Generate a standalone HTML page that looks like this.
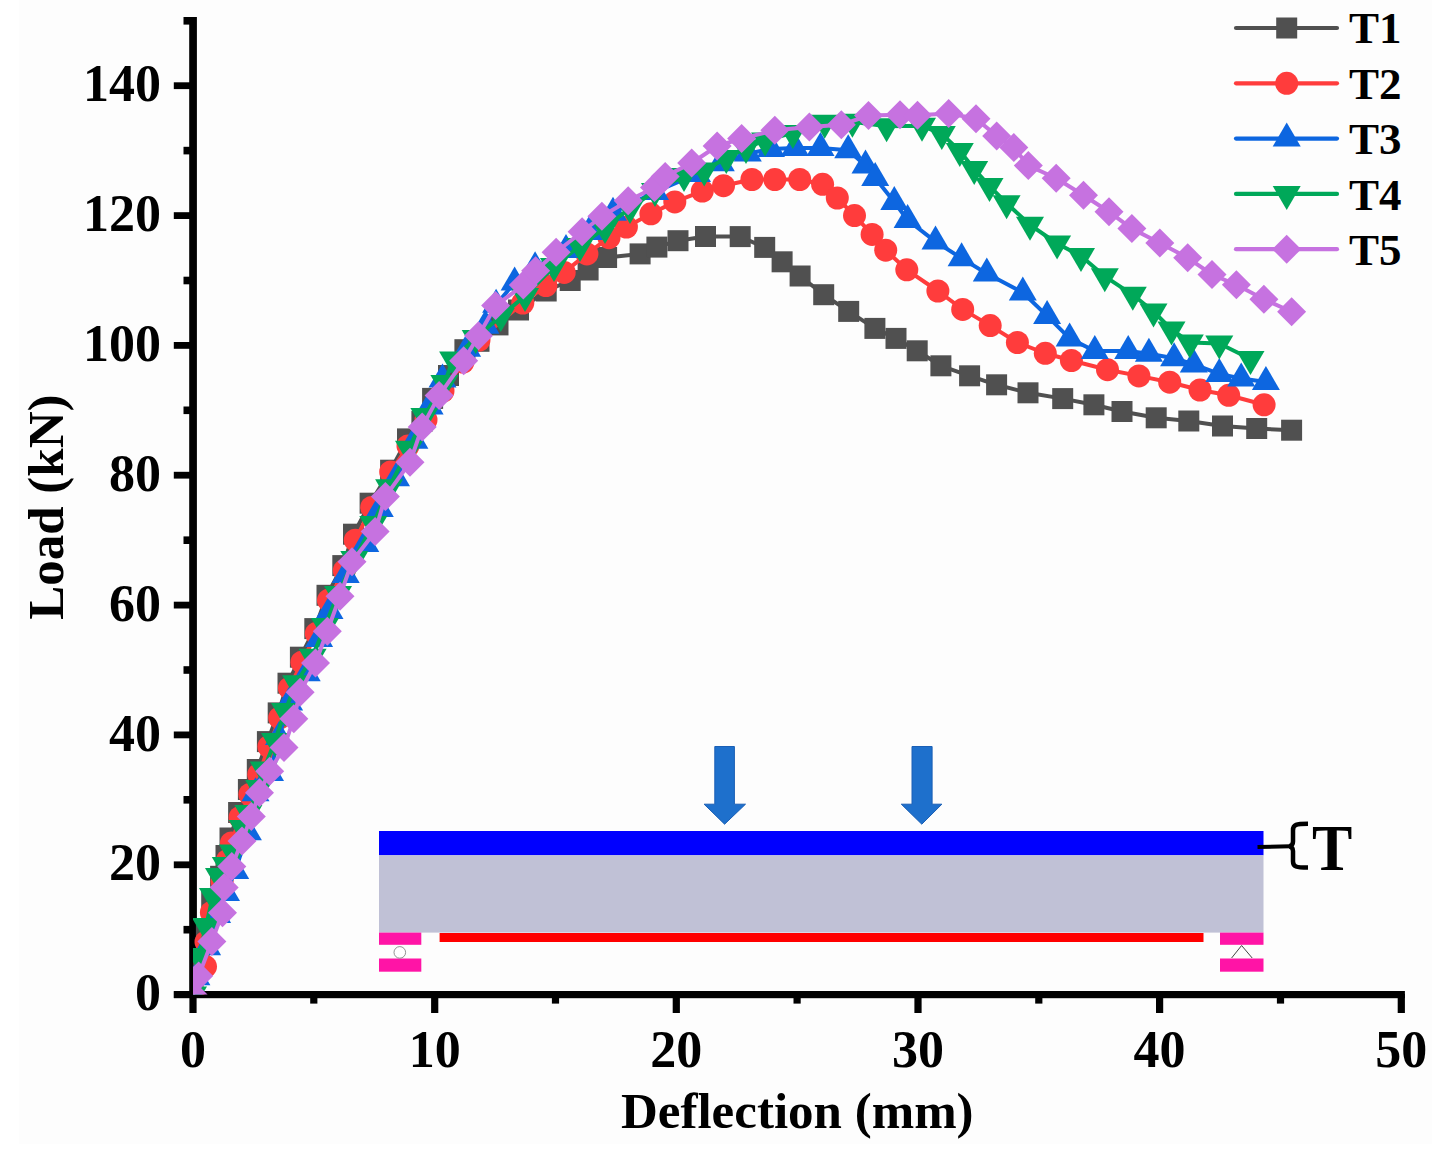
<!DOCTYPE html>
<html><head><meta charset="utf-8"><style>
html,body{margin:0;padding:0;background:#fff;width:1444px;height:1171px;overflow:hidden}
svg{display:block}
text{font-family:"Liberation Serif",serif;font-weight:bold;fill:#000}
</style></head><body>
<svg width="1444" height="1171" viewBox="0 0 1444 1171">
<rect x="19" y="0" width="1413" height="1144" fill="#fdfdfd"/>
<defs><clipPath id="cp"><rect x="193" y="0" width="1220" height="994.6"/></clipPath></defs>

<g>
<rect x="379" y="831" width="884.5" height="24.3" fill="#0000ff"/>
<rect x="379" y="855.3" width="884.5" height="77.3" fill="#c0c1d6"/>
<rect x="439.6" y="933" width="763.9" height="9" fill="#ff0000"/>
<rect x="379" y="932.6" width="42.3" height="12.2" fill="#ff14a6"/>
<rect x="379" y="958.5" width="42.3" height="13.2" fill="#ff14a6"/>
<rect x="1220" y="932.6" width="43.5" height="12.2" fill="#ff14a6"/>
<rect x="1220" y="958.5" width="43.5" height="13.2" fill="#ff14a6"/>
<circle cx="399.8" cy="952.4" r="5.8" fill="#fff" stroke="#777" stroke-width="0.8"/>
<path d="M1231.6 958L1241.6 945.5L1252.2 958" fill="none" stroke="#444" stroke-width="1"/>
<path d="M714.8 746.5H734.4V804.2H745.5L724.6 824.2L704.1 804.2H714.8Z" fill="#1e70cc" stroke="#1a5fb5" stroke-width="1"/>
<path d="M912 746.5H932.1V804.2H941.9L921.8 824.2L901.3 804.2H912Z" fill="#1e70cc" stroke="#1a5fb5" stroke-width="1"/>
<path d="M1257.5 847L1290.5 846.2" stroke="#000" stroke-width="4" fill="none"/>
<path d="M1308 823.8C1296 823.8 1293 824.7 1293 830.2V841.5C1293 844 1291.5 845.8 1289.5 846.3C1291.5 846.8 1293 848.6 1293 851.1V861.5C1293 866.7 1296 867.6 1308 867.6" stroke="#000" stroke-width="4.5" fill="none"/>
<text transform="translate(1312 870.3) scale(0.93 1)" x="0" y="0" font-size="65">T</text>
</g>

<g fill="#000">
<rect x="189.2" y="17" width="7.7" height="981"/>
<rect x="173.9" y="991" width="1231" height="7.2"/>

<rect x="173.8" y="991.2" width="18" height="6.8"/>
<rect x="183.5" y="925.9" width="8" height="7.6"/>
<rect x="173.8" y="861.4" width="18" height="6.8"/>
<rect x="183.5" y="796" width="8" height="7.6"/>
<rect x="173.8" y="731.5" width="18" height="6.8"/>
<rect x="183.5" y="666.2" width="8" height="7.6"/>
<rect x="173.8" y="601.7" width="18" height="6.8"/>
<rect x="183.5" y="536.4" width="8" height="7.6"/>
<rect x="173.8" y="471.8" width="18" height="6.8"/>
<rect x="183.5" y="406.5" width="8" height="7.6"/>
<rect x="173.8" y="342" width="18" height="6.8"/>
<rect x="183.5" y="276.7" width="8" height="7.6"/>
<rect x="173.8" y="212.2" width="18" height="6.8"/>
<rect x="183.5" y="146.8" width="8" height="7.6"/>
<rect x="173.8" y="82.3" width="18" height="6.8"/>
<rect x="183.5" y="17" width="8" height="7.6"/>
<rect x="189.4" y="994" width="7.2" height="19"/>
<rect x="310.2" y="994" width="7.2" height="9.6"/>
<rect x="431.1" y="994" width="7.2" height="19"/>
<rect x="551.9" y="994" width="7.2" height="9.6"/>
<rect x="672.7" y="994" width="7.2" height="19"/>
<rect x="793.5" y="994" width="7.2" height="9.6"/>
<rect x="914.4" y="994" width="7.2" height="19"/>
<rect x="1035.2" y="994" width="7.2" height="9.6"/>
<rect x="1156" y="994" width="7.2" height="19"/>
<rect x="1276.9" y="994" width="7.2" height="9.6"/>
<rect x="1397.7" y="994" width="7.2" height="19"/>
</g>
<g font-size="52">
<text x="161" y="1010.2" text-anchor="end">0</text>
<text x="161" y="880.4" text-anchor="end">20</text>
<text x="161" y="750.5" text-anchor="end">40</text>
<text x="161" y="620.7" text-anchor="end">60</text>
<text x="161" y="490.8" text-anchor="end">80</text>
<text x="161" y="361" text-anchor="end">100</text>
<text x="161" y="231.2" text-anchor="end">120</text>
<text x="161" y="101.3" text-anchor="end">140</text>
<text x="193" y="1067" text-anchor="middle">0</text>
<text x="434.7" y="1067" text-anchor="middle">10</text>
<text x="676.3" y="1067" text-anchor="middle">20</text>
<text x="918" y="1067" text-anchor="middle">30</text>
<text x="1159.6" y="1067" text-anchor="middle">40</text>
<text x="1401.3" y="1067" text-anchor="middle">50</text>
</g>
<text x="797.3" y="1128.2" font-size="51" text-anchor="middle">Deflection (mm)</text>
<text transform="translate(63.3 507.2) rotate(-90)" x="0" y="0" font-size="51" text-anchor="middle">Load (kN)</text>
<g clip-path="url(#cp)">
<polyline points="193,994.6 199,963 206.4,932.8 211.7,901.3 220.6,876.3 226,855.5 230,838 238.6,812.5 248.4,789.5 257.3,769.5 267.4,741.6 278.2,712.9 288,683.2 300.4,657.2 314.8,628.6 327,595.3 342.8,565.6 353.5,534.2 370.1,503.2 390.6,470.2 407.5,438.9 421.9,421.4 432.6,398.4 448.5,375.5 464.9,349.7 479,341.3 498,324.9 518.5,310 546.2,291 570.2,280.5 588.1,270 606.6,257.5 640.1,253.9 656.9,247.1 678,240.7 705.5,236.5 740.2,236.6 764.7,247.4 782.1,261.8 800.1,276 823.7,294.7 848.7,311.4 874.9,328.4 896,338.4 917.2,350.8 940.9,365.8 969.6,375.8 996.6,384.8 1028,392.8 1062.7,398.6 1093.9,404.8 1122,411.5 1156.2,417.8 1188.8,421 1222.5,426 1256.7,428.5 1291.6,430.2" fill="none" stroke="#505050" stroke-width="4" stroke-linejoin="round"/>
<g fill="#505050">
<rect x="182.5" y="984.1" width="21" height="21"/>
<rect x="188.5" y="952.5" width="21" height="21"/>
<rect x="195.9" y="922.3" width="21" height="21"/>
<rect x="201.2" y="890.8" width="21" height="21"/>
<rect x="210.1" y="865.8" width="21" height="21"/>
<rect x="215.5" y="845" width="21" height="21"/>
<rect x="219.5" y="827.5" width="21" height="21"/>
<rect x="228.1" y="802" width="21" height="21"/>
<rect x="237.9" y="779" width="21" height="21"/>
<rect x="246.8" y="759" width="21" height="21"/>
<rect x="256.9" y="731.1" width="21" height="21"/>
<rect x="267.7" y="702.4" width="21" height="21"/>
<rect x="277.5" y="672.7" width="21" height="21"/>
<rect x="289.9" y="646.7" width="21" height="21"/>
<rect x="304.3" y="618.1" width="21" height="21"/>
<rect x="316.5" y="584.8" width="21" height="21"/>
<rect x="332.3" y="555.1" width="21" height="21"/>
<rect x="343" y="523.7" width="21" height="21"/>
<rect x="359.6" y="492.7" width="21" height="21"/>
<rect x="380.1" y="459.7" width="21" height="21"/>
<rect x="397" y="428.4" width="21" height="21"/>
<rect x="411.4" y="410.9" width="21" height="21"/>
<rect x="422.1" y="387.9" width="21" height="21"/>
<rect x="438" y="365" width="21" height="21"/>
<rect x="454.4" y="339.2" width="21" height="21"/>
<rect x="468.5" y="330.8" width="21" height="21"/>
<rect x="487.5" y="314.4" width="21" height="21"/>
<rect x="508" y="299.5" width="21" height="21"/>
<rect x="535.7" y="280.5" width="21" height="21"/>
<rect x="559.7" y="270" width="21" height="21"/>
<rect x="577.6" y="259.5" width="21" height="21"/>
<rect x="596.1" y="247" width="21" height="21"/>
<rect x="629.6" y="243.4" width="21" height="21"/>
<rect x="646.4" y="236.6" width="21" height="21"/>
<rect x="667.5" y="230.2" width="21" height="21"/>
<rect x="695" y="226" width="21" height="21"/>
<rect x="729.7" y="226.1" width="21" height="21"/>
<rect x="754.2" y="236.9" width="21" height="21"/>
<rect x="771.6" y="251.3" width="21" height="21"/>
<rect x="789.6" y="265.5" width="21" height="21"/>
<rect x="813.2" y="284.2" width="21" height="21"/>
<rect x="838.2" y="300.9" width="21" height="21"/>
<rect x="864.4" y="317.9" width="21" height="21"/>
<rect x="885.5" y="327.9" width="21" height="21"/>
<rect x="906.7" y="340.3" width="21" height="21"/>
<rect x="930.4" y="355.3" width="21" height="21"/>
<rect x="959.1" y="365.3" width="21" height="21"/>
<rect x="986.1" y="374.3" width="21" height="21"/>
<rect x="1017.5" y="382.3" width="21" height="21"/>
<rect x="1052.2" y="388.1" width="21" height="21"/>
<rect x="1083.4" y="394.3" width="21" height="21"/>
<rect x="1111.5" y="401" width="21" height="21"/>
<rect x="1145.7" y="407.3" width="21" height="21"/>
<rect x="1178.3" y="410.5" width="21" height="21"/>
<rect x="1212" y="415.5" width="21" height="21"/>
<rect x="1246.2" y="418" width="21" height="21"/>
<rect x="1281.1" y="419.7" width="21" height="21"/>
</g>
<polyline points="193,994.6 205.5,966.6 206,942 211.4,912.4 222.1,881.3 227.5,860.5 231.5,843 240.1,817.5 249.9,794.5 258.8,774.5 268.9,746.6 279.7,717.9 289.5,688.2 301.9,662.2 316.3,633.6 328.5,600.3 344.3,570.6 355.3,540.2 371.7,507.4 390.7,472 408,446 426,420 443,391 463,362 479,340 522.8,303 545.9,285.6 564.2,272.4 586.9,253.9 609,237.7 626.4,227 650.9,213.8 674.8,201.9 702.3,191.1 723.5,185.7 751.9,179.5 774.8,179.5 799.7,179.5 822.6,184.3 837.3,198 854.5,215.6 872.1,234.4 885.7,250.2 906.8,269.8 937.9,291 962.7,309.4 990.2,325.6 1017.4,342.5 1045.3,353.3 1071.4,360.5 1107.5,369.7 1138.9,375.9 1169.7,382.2 1200,390 1228.7,395.3 1264.1,404.8" fill="none" stroke="#ff3c3c" stroke-width="4" stroke-linejoin="round"/>
<g fill="#ff3c3c">
<circle cx="193" cy="994.6" r="11.5"/>
<circle cx="205.5" cy="966.6" r="11.5"/>
<circle cx="206" cy="942" r="11.5"/>
<circle cx="211.4" cy="912.4" r="11.5"/>
<circle cx="222.1" cy="881.3" r="11.5"/>
<circle cx="227.5" cy="860.5" r="11.5"/>
<circle cx="231.5" cy="843" r="11.5"/>
<circle cx="240.1" cy="817.5" r="11.5"/>
<circle cx="249.9" cy="794.5" r="11.5"/>
<circle cx="258.8" cy="774.5" r="11.5"/>
<circle cx="268.9" cy="746.6" r="11.5"/>
<circle cx="279.7" cy="717.9" r="11.5"/>
<circle cx="289.5" cy="688.2" r="11.5"/>
<circle cx="301.9" cy="662.2" r="11.5"/>
<circle cx="316.3" cy="633.6" r="11.5"/>
<circle cx="328.5" cy="600.3" r="11.5"/>
<circle cx="344.3" cy="570.6" r="11.5"/>
<circle cx="355.3" cy="540.2" r="11.5"/>
<circle cx="371.7" cy="507.4" r="11.5"/>
<circle cx="390.7" cy="472" r="11.5"/>
<circle cx="408" cy="446" r="11.5"/>
<circle cx="426" cy="420" r="11.5"/>
<circle cx="443" cy="391" r="11.5"/>
<circle cx="463" cy="362" r="11.5"/>
<circle cx="479" cy="340" r="11.5"/>
<circle cx="522.8" cy="303" r="11.5"/>
<circle cx="545.9" cy="285.6" r="11.5"/>
<circle cx="564.2" cy="272.4" r="11.5"/>
<circle cx="586.9" cy="253.9" r="11.5"/>
<circle cx="609" cy="237.7" r="11.5"/>
<circle cx="626.4" cy="227" r="11.5"/>
<circle cx="650.9" cy="213.8" r="11.5"/>
<circle cx="674.8" cy="201.9" r="11.5"/>
<circle cx="702.3" cy="191.1" r="11.5"/>
<circle cx="723.5" cy="185.7" r="11.5"/>
<circle cx="751.9" cy="179.5" r="11.5"/>
<circle cx="774.8" cy="179.5" r="11.5"/>
<circle cx="799.7" cy="179.5" r="11.5"/>
<circle cx="822.6" cy="184.3" r="11.5"/>
<circle cx="837.3" cy="198" r="11.5"/>
<circle cx="854.5" cy="215.6" r="11.5"/>
<circle cx="872.1" cy="234.4" r="11.5"/>
<circle cx="885.7" cy="250.2" r="11.5"/>
<circle cx="906.8" cy="269.8" r="11.5"/>
<circle cx="937.9" cy="291" r="11.5"/>
<circle cx="962.7" cy="309.4" r="11.5"/>
<circle cx="990.2" cy="325.6" r="11.5"/>
<circle cx="1017.4" cy="342.5" r="11.5"/>
<circle cx="1045.3" cy="353.3" r="11.5"/>
<circle cx="1071.4" cy="360.5" r="11.5"/>
<circle cx="1107.5" cy="369.7" r="11.5"/>
<circle cx="1138.9" cy="375.9" r="11.5"/>
<circle cx="1169.7" cy="382.2" r="11.5"/>
<circle cx="1200" cy="390" r="11.5"/>
<circle cx="1228.7" cy="395.3" r="11.5"/>
<circle cx="1264.1" cy="404.8" r="11.5"/>
</g>
<polyline points="193,994.6 196.4,977.2 207.1,947.2 217.1,915 226,893 235.2,871 247.9,832.2 255.5,793.3 270,773 279,737 289.1,702.4 306.7,673.2 319.1,639 329.5,610.9 345.7,575 365.3,544 379.8,509 396,478.3 414.4,440.8 429.6,406.6 442.5,379.4 467.1,348.7 485.4,325.7 496.1,304.7 514.6,282.6 535.1,267.3 566,250 589,232 613,212.7 655,192 697,174 720.8,163.3 747.8,153.6 771,149 795,148 820.5,148 848.2,150.2 865.5,165.5 875.2,178 894.3,202 907.6,220 935.5,241.6 961.6,258.3 986.8,273.6 1022.8,292.5 1047.1,315.9 1069.6,338.4 1094.8,351 1128.2,351 1148.9,353.7 1174.1,358.2 1193.8,364.4 1219.3,373.9 1241.2,378.4 1265.9,381.9" fill="none" stroke="#0d66e0" stroke-width="4" stroke-linejoin="round"/>
<g fill="#0d66e0">
<path d="M193 978.6L207 1002.6H179Z"/>
<path d="M196.4 961.2L210.4 985.2H182.4Z"/>
<path d="M207.1 931.2L221.1 955.2H193.1Z"/>
<path d="M217.1 899L231.1 923H203.1Z"/>
<path d="M226 877L240 901H212Z"/>
<path d="M235.2 855L249.2 879H221.2Z"/>
<path d="M247.9 816.2L261.9 840.2H233.9Z"/>
<path d="M255.5 777.3L269.5 801.3H241.5Z"/>
<path d="M270 757L284 781H256Z"/>
<path d="M279 721L293 745H265Z"/>
<path d="M289.1 686.4L303.1 710.4H275.1Z"/>
<path d="M306.7 657.2L320.7 681.2H292.7Z"/>
<path d="M319.1 623L333.1 647H305.1Z"/>
<path d="M329.5 594.9L343.5 618.9H315.5Z"/>
<path d="M345.7 559L359.7 583H331.7Z"/>
<path d="M365.3 528L379.3 552H351.3Z"/>
<path d="M379.8 493L393.8 517H365.8Z"/>
<path d="M396 462.3L410 486.3H382Z"/>
<path d="M414.4 424.8L428.4 448.8H400.4Z"/>
<path d="M429.6 390.6L443.6 414.6H415.6Z"/>
<path d="M442.5 363.4L456.5 387.4H428.5Z"/>
<path d="M467.1 332.7L481.1 356.7H453.1Z"/>
<path d="M485.4 309.7L499.4 333.7H471.4Z"/>
<path d="M496.1 288.7L510.1 312.7H482.1Z"/>
<path d="M514.6 266.6L528.6 290.6H500.6Z"/>
<path d="M535.1 251.3L549.1 275.3H521.1Z"/>
<path d="M566 234L580 258H552Z"/>
<path d="M589 216L603 240H575Z"/>
<path d="M613 196.7L627 220.7H599Z"/>
<path d="M655 176L669 200H641Z"/>
<path d="M697 158L711 182H683Z"/>
<path d="M720.8 147.3L734.8 171.3H706.8Z"/>
<path d="M747.8 137.6L761.8 161.6H733.8Z"/>
<path d="M771 133L785 157H757Z"/>
<path d="M795 132L809 156H781Z"/>
<path d="M820.5 132L834.5 156H806.5Z"/>
<path d="M848.2 134.2L862.2 158.2H834.2Z"/>
<path d="M865.5 149.5L879.5 173.5H851.5Z"/>
<path d="M875.2 162L889.2 186H861.2Z"/>
<path d="M894.3 186L908.3 210H880.3Z"/>
<path d="M907.6 204L921.6 228H893.6Z"/>
<path d="M935.5 225.6L949.5 249.6H921.5Z"/>
<path d="M961.6 242.3L975.6 266.3H947.6Z"/>
<path d="M986.8 257.6L1000.8 281.6H972.8Z"/>
<path d="M1022.8 276.5L1036.8 300.5H1008.8Z"/>
<path d="M1047.1 299.9L1061.1 323.9H1033.1Z"/>
<path d="M1069.6 322.4L1083.6 346.4H1055.6Z"/>
<path d="M1094.8 335L1108.8 359H1080.8Z"/>
<path d="M1128.2 335L1142.2 359H1114.2Z"/>
<path d="M1148.9 337.7L1162.9 361.7H1134.9Z"/>
<path d="M1174.1 342.2L1188.1 366.2H1160.1Z"/>
<path d="M1193.8 348.4L1207.8 372.4H1179.8Z"/>
<path d="M1219.3 357.9L1233.3 381.9H1205.3Z"/>
<path d="M1241.2 362.4L1255.2 386.4H1227.2Z"/>
<path d="M1265.9 365.9L1279.9 389.9H1251.9Z"/>
</g>
<polyline points="193,994.6 199,956 206,926 213,896 219,876 225.8,864.9 233,852.6 242.7,828 248.4,813.1 259.1,788 263.8,769.5 275,741 285,711 296.2,683.3 312.6,656.7 325,626 338,594 354.3,559 373.3,524.1 389.1,487.2 409,448.7 424.4,415.9 444.4,383.1 453.1,359.5 475.7,338 500.8,316 525,296 554,266 580,246 605,228 630,208 655,191 684,176 704.2,170.6 726.3,158.1 746,148 765.1,140.5 792.8,132.9 824.7,122.8 852.4,121.7 886.6,126.2 922,125.8 941.8,133.9 959.8,151 974.2,169 989.5,186.1 1006.6,203.2 1030,224.8 1057.1,243.5 1081,256.1 1104.8,276.3 1132.8,294.8 1153.5,311.5 1171.5,329.5 1189.8,342.4 1219.3,343.5 1250.5,359" fill="none" stroke="#00a859" stroke-width="4" stroke-linejoin="round"/>
<g fill="#00a859">
<path d="M179 986.6H207L193 1010.6Z"/>
<path d="M185 948H213L199 972Z"/>
<path d="M192 918H220L206 942Z"/>
<path d="M199 888H227L213 912Z"/>
<path d="M205 868H233L219 892Z"/>
<path d="M211.8 856.9H239.8L225.8 880.9Z"/>
<path d="M219 844.6H247L233 868.6Z"/>
<path d="M228.7 820H256.7L242.7 844Z"/>
<path d="M234.4 805.1H262.4L248.4 829.1Z"/>
<path d="M245.1 780H273.1L259.1 804Z"/>
<path d="M249.8 761.5H277.8L263.8 785.5Z"/>
<path d="M261 733H289L275 757Z"/>
<path d="M271 703H299L285 727Z"/>
<path d="M282.2 675.3H310.2L296.2 699.3Z"/>
<path d="M298.6 648.7H326.6L312.6 672.7Z"/>
<path d="M311 618H339L325 642Z"/>
<path d="M324 586H352L338 610Z"/>
<path d="M340.3 551H368.3L354.3 575Z"/>
<path d="M359.3 516.1H387.3L373.3 540.1Z"/>
<path d="M375.1 479.2H403.1L389.1 503.2Z"/>
<path d="M395 440.7H423L409 464.7Z"/>
<path d="M410.4 407.9H438.4L424.4 431.9Z"/>
<path d="M430.4 375.1H458.4L444.4 399.1Z"/>
<path d="M439.1 351.5H467.1L453.1 375.5Z"/>
<path d="M461.7 330H489.7L475.7 354Z"/>
<path d="M486.8 308H514.8L500.8 332Z"/>
<path d="M511 288H539L525 312Z"/>
<path d="M540 258H568L554 282Z"/>
<path d="M566 238H594L580 262Z"/>
<path d="M591 220H619L605 244Z"/>
<path d="M616 200H644L630 224Z"/>
<path d="M641 183H669L655 207Z"/>
<path d="M670 168H698L684 192Z"/>
<path d="M690.2 162.6H718.2L704.2 186.6Z"/>
<path d="M712.3 150.1H740.3L726.3 174.1Z"/>
<path d="M732 140H760L746 164Z"/>
<path d="M751.1 132.5H779.1L765.1 156.5Z"/>
<path d="M778.8 124.9H806.8L792.8 148.9Z"/>
<path d="M810.7 114.8H838.7L824.7 138.8Z"/>
<path d="M838.4 113.7H866.4L852.4 137.7Z"/>
<path d="M872.6 118.2H900.6L886.6 142.2Z"/>
<path d="M908 117.8H936L922 141.8Z"/>
<path d="M927.8 125.9H955.8L941.8 149.9Z"/>
<path d="M945.8 143H973.8L959.8 167Z"/>
<path d="M960.2 161H988.2L974.2 185Z"/>
<path d="M975.5 178.1H1003.5L989.5 202.1Z"/>
<path d="M992.6 195.2H1020.6L1006.6 219.2Z"/>
<path d="M1016 216.8H1044L1030 240.8Z"/>
<path d="M1043.1 235.5H1071.1L1057.1 259.5Z"/>
<path d="M1067 248.1H1095L1081 272.1Z"/>
<path d="M1090.8 268.3H1118.8L1104.8 292.3Z"/>
<path d="M1118.8 286.8H1146.8L1132.8 310.8Z"/>
<path d="M1139.5 303.5H1167.5L1153.5 327.5Z"/>
<path d="M1157.5 321.5H1185.5L1171.5 345.5Z"/>
<path d="M1175.8 334.4H1203.8L1189.8 358.4Z"/>
<path d="M1205.3 335.5H1233.3L1219.3 359.5Z"/>
<path d="M1236.5 351H1264.5L1250.5 375Z"/>
</g>
<polyline points="193,994.6 198.7,975.9 211.9,941.4 222.5,912.8 224.2,887.6 231.8,866.4 242,841 251.3,816.4 259.5,792.8 269.7,771.3 284,747.4 293.8,718.7 300.1,692.2 315.5,663 327.3,631.3 340,596.3 352,561.7 375.1,531.5 385.4,496.6 410,462.3 422.2,426.9 439.1,395.6 463.7,360.8 478.5,335.8 495.6,305.6 523.3,285.1 535.6,270.8 556.1,252.3 582.1,231.7 601.9,216.2 628.2,200.7 654.5,187.5 665.2,176.4 691.7,163 717.1,146 741.6,138.6 774.8,130.3 809.4,126.9 841.3,124.8 868.5,115.5 900,114.8 917.5,115.2 948.7,113.4 976,118.8 996.7,135.9 1013.8,147.6 1028.3,165.6 1056.2,178.2 1083.5,195.3 1109,211.8 1131.9,228.6 1159.8,243 1187.7,257.8 1212,274.5 1236.4,284.8 1263.9,299.3 1291.6,311.8" fill="none" stroke="#c672e0" stroke-width="4" stroke-linejoin="round"/>
<g fill="#c672e0">
<path d="M193 980.1L207.5 994.6L193 1009.1L178.5 994.6Z"/>
<path d="M198.7 961.4L213.2 975.9L198.7 990.4L184.2 975.9Z"/>
<path d="M211.9 926.9L226.4 941.4L211.9 955.9L197.4 941.4Z"/>
<path d="M222.5 898.3L237 912.8L222.5 927.3L208 912.8Z"/>
<path d="M224.2 873.1L238.7 887.6L224.2 902.1L209.7 887.6Z"/>
<path d="M231.8 851.9L246.3 866.4L231.8 880.9L217.3 866.4Z"/>
<path d="M242 826.5L256.5 841L242 855.5L227.5 841Z"/>
<path d="M251.3 801.9L265.8 816.4L251.3 830.9L236.8 816.4Z"/>
<path d="M259.5 778.3L274 792.8L259.5 807.3L245 792.8Z"/>
<path d="M269.7 756.8L284.2 771.3L269.7 785.8L255.2 771.3Z"/>
<path d="M284 732.9L298.5 747.4L284 761.9L269.5 747.4Z"/>
<path d="M293.8 704.2L308.3 718.7L293.8 733.2L279.3 718.7Z"/>
<path d="M300.1 677.7L314.6 692.2L300.1 706.7L285.6 692.2Z"/>
<path d="M315.5 648.5L330 663L315.5 677.5L301 663Z"/>
<path d="M327.3 616.8L341.8 631.3L327.3 645.8L312.8 631.3Z"/>
<path d="M340 581.8L354.5 596.3L340 610.8L325.5 596.3Z"/>
<path d="M352 547.2L366.5 561.7L352 576.2L337.5 561.7Z"/>
<path d="M375.1 517L389.6 531.5L375.1 546L360.6 531.5Z"/>
<path d="M385.4 482.1L399.9 496.6L385.4 511.1L370.9 496.6Z"/>
<path d="M410 447.8L424.5 462.3L410 476.8L395.5 462.3Z"/>
<path d="M422.2 412.4L436.7 426.9L422.2 441.4L407.7 426.9Z"/>
<path d="M439.1 381.1L453.6 395.6L439.1 410.1L424.6 395.6Z"/>
<path d="M463.7 346.3L478.2 360.8L463.7 375.3L449.2 360.8Z"/>
<path d="M478.5 321.3L493 335.8L478.5 350.3L464 335.8Z"/>
<path d="M495.6 291.1L510.1 305.6L495.6 320.1L481.1 305.6Z"/>
<path d="M523.3 270.6L537.8 285.1L523.3 299.6L508.8 285.1Z"/>
<path d="M535.6 256.3L550.1 270.8L535.6 285.3L521.1 270.8Z"/>
<path d="M556.1 237.8L570.6 252.3L556.1 266.8L541.6 252.3Z"/>
<path d="M582.1 217.2L596.6 231.7L582.1 246.2L567.6 231.7Z"/>
<path d="M601.9 201.7L616.4 216.2L601.9 230.7L587.4 216.2Z"/>
<path d="M628.2 186.2L642.7 200.7L628.2 215.2L613.7 200.7Z"/>
<path d="M654.5 173L669 187.5L654.5 202L640 187.5Z"/>
<path d="M665.2 161.9L679.7 176.4L665.2 190.9L650.7 176.4Z"/>
<path d="M691.7 148.5L706.2 163L691.7 177.5L677.2 163Z"/>
<path d="M717.1 131.5L731.6 146L717.1 160.5L702.6 146Z"/>
<path d="M741.6 124.1L756.1 138.6L741.6 153.1L727.1 138.6Z"/>
<path d="M774.8 115.8L789.3 130.3L774.8 144.8L760.3 130.3Z"/>
<path d="M809.4 112.4L823.9 126.9L809.4 141.4L794.9 126.9Z"/>
<path d="M841.3 110.3L855.8 124.8L841.3 139.3L826.8 124.8Z"/>
<path d="M868.5 101L883 115.5L868.5 130L854 115.5Z"/>
<path d="M900 100.3L914.5 114.8L900 129.3L885.5 114.8Z"/>
<path d="M917.5 100.7L932 115.2L917.5 129.7L903 115.2Z"/>
<path d="M948.7 98.9L963.2 113.4L948.7 127.9L934.2 113.4Z"/>
<path d="M976 104.3L990.5 118.8L976 133.3L961.5 118.8Z"/>
<path d="M996.7 121.4L1011.2 135.9L996.7 150.4L982.2 135.9Z"/>
<path d="M1013.8 133.1L1028.3 147.6L1013.8 162.1L999.3 147.6Z"/>
<path d="M1028.3 151.1L1042.8 165.6L1028.3 180.1L1013.8 165.6Z"/>
<path d="M1056.2 163.7L1070.7 178.2L1056.2 192.7L1041.7 178.2Z"/>
<path d="M1083.5 180.8L1098 195.3L1083.5 209.8L1069 195.3Z"/>
<path d="M1109 197.3L1123.5 211.8L1109 226.3L1094.5 211.8Z"/>
<path d="M1131.9 214.1L1146.4 228.6L1131.9 243.1L1117.4 228.6Z"/>
<path d="M1159.8 228.5L1174.3 243L1159.8 257.5L1145.3 243Z"/>
<path d="M1187.7 243.3L1202.2 257.8L1187.7 272.3L1173.2 257.8Z"/>
<path d="M1212 260L1226.5 274.5L1212 289L1197.5 274.5Z"/>
<path d="M1236.4 270.3L1250.9 284.8L1236.4 299.3L1221.9 284.8Z"/>
<path d="M1263.9 284.8L1278.4 299.3L1263.9 313.8L1249.4 299.3Z"/>
<path d="M1291.6 297.3L1306.1 311.8L1291.6 326.3L1277.1 311.8Z"/>
</g>
</g>
<line x1="1236" y1="28" x2="1337" y2="28" stroke="#505050" stroke-width="4.2" stroke-linecap="round"/>
<g fill="#505050"><rect x="1276.2" y="17.5" width="21" height="21"/></g>
<text x="1349" y="43" font-size="45">T1</text>
<line x1="1236" y1="83.3" x2="1337" y2="83.3" stroke="#ff3c3c" stroke-width="4.2" stroke-linecap="round"/>
<g fill="#ff3c3c"><circle cx="1286.7" cy="83.3" r="11.5"/></g>
<text x="1349" y="98.5" font-size="45">T2</text>
<line x1="1236" y1="138.6" x2="1337" y2="138.6" stroke="#0d66e0" stroke-width="4.2" stroke-linecap="round"/>
<g fill="#0d66e0"><path d="M1286.7 122.6L1300.7 146.6H1272.7Z"/></g>
<text x="1349" y="154" font-size="45">T3</text>
<line x1="1236" y1="193.9" x2="1337" y2="193.9" stroke="#00a859" stroke-width="4.2" stroke-linecap="round"/>
<g fill="#00a859"><path d="M1272.7 185.9H1300.7L1286.7 209.9Z"/></g>
<text x="1349" y="209.5" font-size="45">T4</text>
<line x1="1236" y1="249.2" x2="1337" y2="249.2" stroke="#c672e0" stroke-width="4.2" stroke-linecap="round"/>
<g fill="#c672e0"><path d="M1286.7 234.7L1301.2 249.2L1286.7 263.7L1272.2 249.2Z"/></g>
<text x="1349" y="265" font-size="45">T5</text>
</svg></body></html>
